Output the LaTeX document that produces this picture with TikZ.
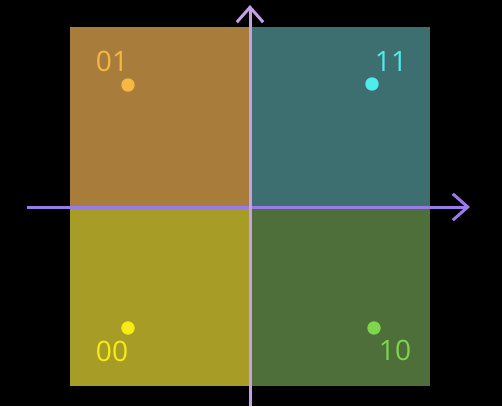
\documentclass[tikz,border=0pt]{standalone}
\usepackage{fontspec}
\setmainfont{Open Sans}
\usetikzlibrary{arrows.meta}
\definecolor{quadOrange}{RGB}{168,125,60}
\definecolor{quadTeal}{RGB}{62,111,112}
\definecolor{quadYellow}{RGB}{166,156,38}
\definecolor{quadGreen}{RGB}{78,110,58}
\definecolor{dotOrange}{RGB}{246,184,66}
\definecolor{dotCyan}{RGB}{80,236,236}
\definecolor{dotYellow}{RGB}{246,236,20}
\definecolor{dotGreen}{RGB}{126,214,76}
\definecolor{axisV}{RGB}{198,160,228}
\definecolor{axisH}{RGB}{152,122,234}
\tikzset{
  axisline/.style={line width=1.7pt, -{Straight Barb[length=8.5pt, width=15pt, line width=1.7pt]}},
  pointdot/.style={circle, fill=#1, inner sep=0pt, minimum size=7.6pt},
  pointlabel/.style={text=#1, inner sep=0pt, font=\fontsize{16}{16}\selectfont}
}
\begin{document}
\begin{tikzpicture}[x=0.02cm, y=-0.02cm]
  % Fondo
  \fill[black] (0,0) rectangle (502,406);
  \useasboundingbox (0,0) rectangle (502,406);

  % Cuadrantes
  \fill[quadOrange] (70,27) rectangle (250,207);
  \fill[quadTeal] (250,27) rectangle (430,207);
  \fill[quadYellow] (70,207) rectangle (250,386);
  \fill[quadGreen] (250,207) rectangle (430,386);

  % Ejes
  \coordinate (xstart) at (27,207);
  \coordinate (xend) at (470,207);
  \coordinate (ystart) at (250,406);
  \coordinate (yend) at (250,5);
  \draw[axisline, axisH] (xstart) -- (xend);
  \draw[axisline, axisV] (ystart) -- (yend);

  % Puntos y etiquetas
  \node[pointdot=dotOrange] (p01) at (128,85) {};
  \node[pointlabel=dotOrange] (l01) at (112,61) {01};

  \node[pointdot=dotCyan] (p11) at (372,84) {};
  \node[pointlabel=dotCyan] (l11) at (391,61) {11};

  \node[pointdot=dotYellow] (p00) at (128,328) {};
  \node[pointlabel=dotYellow] (l00) at (112,351) {00};

  \node[pointdot=dotGreen] (p10) at (374,328) {};
  \node[pointlabel=dotGreen] (l10) at (395,350) {10};
\end{tikzpicture}
\end{document}
